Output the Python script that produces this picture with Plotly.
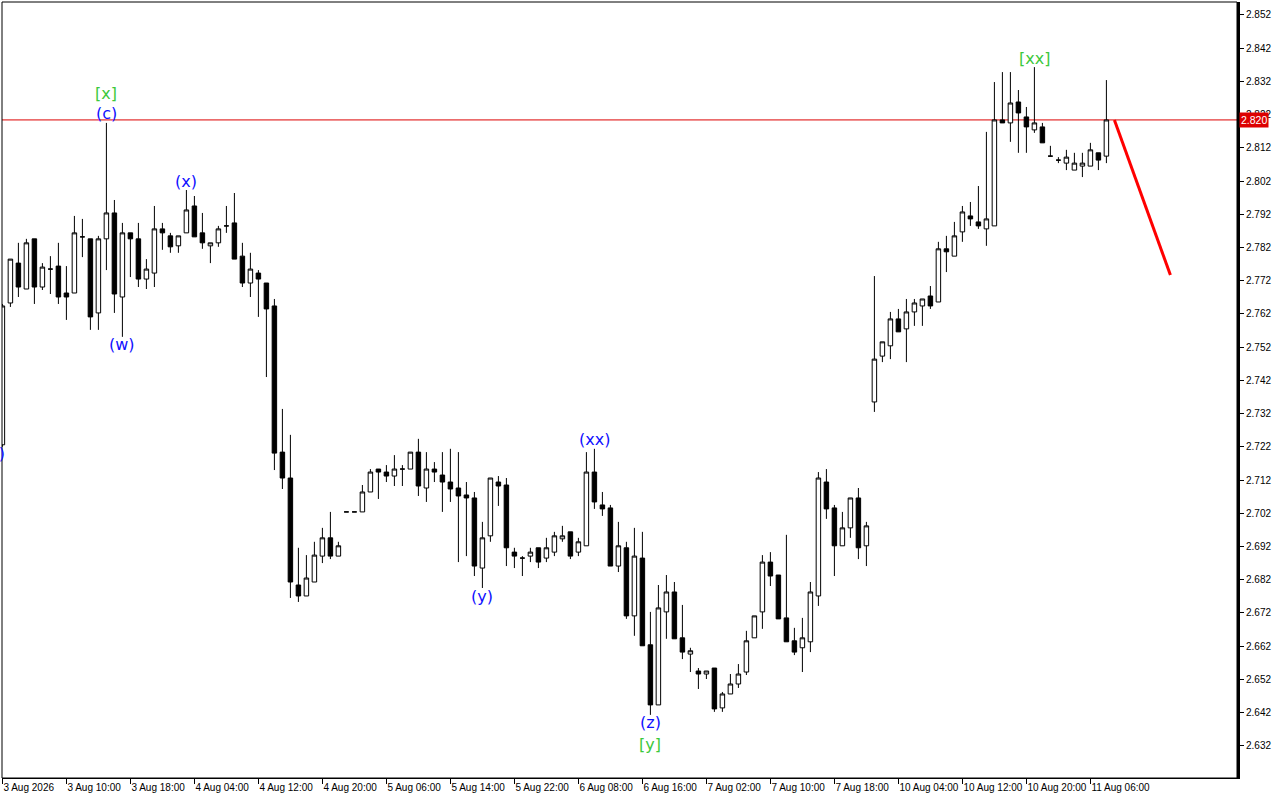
import plotly.graph_objects as go

# ---- data (H1 bars) ----
opens = [2.7226, 2.7653, 2.7773, 2.7695, 2.7846, 2.7701, 2.7755, 2.7764, 2.7683, 2.7683,
         2.7852, 2.7846, 2.7623, 2.7846, 2.7924, 2.7671, 2.7864, 2.7846, 2.7725, 2.7743,
         2.7876, 2.7855, 2.7825, 2.7864, 2.7945, 2.7864, 2.7825, 2.7834, 2.7885, 2.7894,
         2.7794, 2.7713, 2.7743, 2.7713, 2.7644, 2.7204, 2.7126, 2.6804, 2.6771, 2.6813,
         2.6891, 2.6946, 2.6891, 2.7024, 2.7024, 2.7024, 2.7084, 2.7153, 2.7144, 2.7132,
         2.7153, 2.7153, 2.7204, 2.7096, 2.7153, 2.7135, 2.7114, 2.7096, 2.7075, 2.7066,
         2.6855, 2.6952, 2.7114, 2.7105, 2.6903, 2.6885, 2.6891, 2.6916, 2.6885, 2.6903,
         2.6943, 2.6964, 2.6903, 2.6922, 2.7144, 2.7045, 2.7036, 2.6861, 2.6916, 2.6711,
         2.6885, 2.6624, 2.6443, 2.6723, 2.6783, 2.6645, 2.6596, 2.6545, 2.6536, 2.6554,
         2.6434, 2.6476, 2.6506, 2.6542, 2.6645, 2.6723, 2.6873, 2.6834, 2.6705, 2.6636,
         2.6615, 2.6633, 2.6771, 2.7114, 2.7036, 2.6922, 2.6976, 2.7066, 2.6922, 2.7355,
         2.7493, 2.7524, 2.7605, 2.7575, 2.7626, 2.7644, 2.7674, 2.7656, 2.7816, 2.7794,
         2.7867, 2.7915, 2.7897, 2.7876, 2.7885, 2.8204, 2.8195, 2.8258, 2.8213, 2.8174,
         2.8183, 2.8095, 2.8083, 2.8074, 2.8053, 2.8065, 2.8065, 2.8105, 2.8095]
highs = [2.7650, 2.7785, 2.7834, 2.7846, 2.7846, 2.7773, 2.7794, 2.7834, 2.7764, 2.7915,
         2.7906, 2.7846, 2.7855, 2.8195, 2.7963, 2.7894, 2.7864, 2.7894, 2.7785, 2.7945,
         2.7894, 2.7864, 2.7855, 2.7993, 2.7975, 2.7924, 2.7834, 2.7885, 2.7945, 2.7984,
         2.7834, 2.7804, 2.7752, 2.7713, 2.7665, 2.7334, 2.7256, 2.6916, 2.6894, 2.6934,
         2.6976, 2.7024, 2.6934, 2.7024, 2.7024, 2.7105, 2.7153, 2.7153, 2.7165, 2.7195,
         2.7165, 2.7204, 2.7244, 2.7204, 2.7174, 2.7204, 2.7214, 2.7204, 2.7114, 2.7084,
         2.6994, 2.7126, 2.7132, 2.7126, 2.6916, 2.6891, 2.6916, 2.6916, 2.6946, 2.6964,
         2.6982, 2.6964, 2.6946, 2.7204, 2.7214, 2.7084, 2.7045, 2.6994, 2.6934, 2.6976,
         2.6964, 2.6723, 2.6804, 2.6834, 2.6813, 2.6744, 2.6615, 2.6554, 2.6545, 2.6554,
         2.6482, 2.6536, 2.6566, 2.6666, 2.6711, 2.6894, 2.6903, 2.6834, 2.6955, 2.6675,
         2.6705, 2.6813, 2.7144, 2.7153, 2.7045, 2.7024, 2.7066, 2.7096, 2.6994, 2.7734,
         2.7536, 2.7626, 2.7635, 2.7665, 2.7665, 2.7665, 2.7704, 2.7837, 2.7855, 2.7897,
         2.7945, 2.7957, 2.8005, 2.8168, 2.8318, 2.8348, 2.8348, 2.8294, 2.8243, 2.8363,
         2.8195, 2.8126, 2.8092, 2.8114, 2.8105, 2.8105, 2.8135, 2.8105, 2.8324]
lows = [2.7220, 2.7641, 2.7671, 2.7695, 2.7650, 2.7692, 2.7680, 2.7650, 2.7602, 2.7683,
        2.7791, 2.7572, 2.7572, 2.7752, 2.7623, 2.7551, 2.7731, 2.7701, 2.7695, 2.7701,
        2.7813, 2.7804, 2.7804, 2.7864, 2.7852, 2.7816, 2.7773, 2.7822, 2.7864, 2.7785,
        2.7701, 2.7671, 2.7611, 2.7430, 2.7150, 2.7093, 2.6765, 2.6753, 2.6771, 2.6813,
        2.6870, 2.6882, 2.6891, 2.7024, 2.7024, 2.7024, 2.7084, 2.7063, 2.7114, 2.7102,
        2.7102, 2.7153, 2.7072, 2.7054, 2.7114, 2.7024, 2.7054, 2.6873, 2.6891, 2.6831,
        2.6795, 2.6934, 2.7042, 2.6861, 2.6855, 2.6831, 2.6873, 2.6855, 2.6873, 2.6891,
        2.6934, 2.6882, 2.6891, 2.6922, 2.7033, 2.7012, 2.6861, 2.6843, 2.6702, 2.6651,
        2.6621, 2.6413, 2.6443, 2.6642, 2.6642, 2.6581, 2.6542, 2.6491, 2.6521, 2.6422,
        2.6422, 2.6476, 2.6494, 2.6533, 2.6645, 2.6672, 2.6801, 2.6702, 2.6633, 2.6593,
        2.6542, 2.6602, 2.6741, 2.7003, 2.6831, 2.6922, 2.6946, 2.6882, 2.6861, 2.7325,
        2.7475, 2.7484, 2.7566, 2.7475, 2.7584, 2.7584, 2.7635, 2.7656, 2.7746, 2.7794,
        2.7837, 2.7885, 2.7876, 2.7825, 2.7885, 2.8195, 2.8138, 2.8105, 2.8105, 2.8165,
        2.8135, 2.8095, 2.8074, 2.8053, 2.8053, 2.8032, 2.8065, 2.8053, 2.8074]
closes = [2.7644, 2.7785, 2.7701, 2.7834, 2.7701, 2.7761, 2.7755, 2.7671, 2.7671, 2.7864,
          2.7852, 2.7611, 2.7846, 2.7924, 2.7680, 2.7864, 2.7846, 2.7725, 2.7755, 2.7876,
          2.7864, 2.7822, 2.7855, 2.7933, 2.7852, 2.7834, 2.7834, 2.7876, 2.7885, 2.7785,
          2.7713, 2.7755, 2.7725, 2.7635, 2.7201, 2.7126, 2.6813, 2.6771, 2.6825, 2.6894,
          2.6946, 2.6891, 2.6922, 2.7024, 2.7024, 2.7084, 2.7144, 2.7144, 2.7132, 2.7153,
          2.7153, 2.7204, 2.7102, 2.7153, 2.7144, 2.7114, 2.7093, 2.7072, 2.7066, 2.6861,
          2.6946, 2.7126, 2.7102, 2.6916, 2.6891, 2.6885, 2.6903, 2.6873, 2.6916, 2.6952,
          2.6952, 2.6891, 2.6934, 2.7144, 2.7054, 2.7033, 2.6861, 2.6922, 2.6711, 2.6891,
          2.6621, 2.6443, 2.6735, 2.6783, 2.6642, 2.6602, 2.6606, 2.6536, 2.6545, 2.6431,
          2.6476, 2.6506, 2.6536, 2.6636, 2.6711, 2.6873, 2.6831, 2.6702, 2.6633, 2.6602,
          2.6645, 2.6783, 2.7126, 2.7033, 2.6922, 2.6976, 2.7066, 2.6916, 2.6982, 2.7484,
          2.7536, 2.7605, 2.7566, 2.7626, 2.7653, 2.7665, 2.7644, 2.7816, 2.7807, 2.7855,
          2.7927, 2.7906, 2.7885, 2.7906, 2.8204, 2.8195, 2.8255, 2.8225, 2.8183, 2.8195,
          2.8135, 2.8095, 2.8083, 2.8092, 2.8074, 2.8074, 2.8114, 2.8083, 2.8204]

xtick_pos = [0, 8, 16, 24, 32, 40, 48, 56, 64, 72, 80, 88, 96, 104, 112, 120, 128, 136]
xtick_text = ["3 Aug 2026", "3 Aug 10:00", "3 Aug 18:00", "4 Aug 04:00", "4 Aug 12:00",
              "4 Aug 20:00", "5 Aug 06:00", "5 Aug 14:00", "5 Aug 22:00", "6 Aug 08:00",
              "6 Aug 16:00", "7 Aug 02:00", "7 Aug 10:00", "7 Aug 18:00", "10 Aug 04:00",
              "10 Aug 12:00", "10 Aug 20:00", "11 Aug 06:00"]
ytick_vals = [2.632, 2.642, 2.652, 2.662, 2.672, 2.682, 2.692, 2.702, 2.712, 2.722, 2.732,
              2.742, 2.752, 2.762, 2.772, 2.782, 2.792, 2.802, 2.812, 2.822, 2.832, 2.842, 2.852]

current_price = 2.8204
current_price_text = "2.820"
forecast_bars = [139, 146]
forecast_prices = [2.8204, 2.7737]

wave_labels = ["[x]", "(c)", "(w)", "(x)", "(y)", "(xx)", "(z)", "[y]", "[xx]"]
wave_bars = [13, 13, 15, 23, 60, 74, 81, 81, 129]
wave_prices = [2.8285, 2.8222, 2.7527, 2.8020, 2.6768, 2.7241, 2.6389, 2.6323, 2.8390]
wave_degree = ["major", "minor", "minor", "minor", "minor", "minor", "minor", "major", "major"]

BLUE = "#1010ff"
GREEN = "#3cc83c"

bars = list(range(len(opens)))

fig = go.Figure()
fig.add_trace(go.Candlestick(
    x=bars, open=opens, high=highs, low=lows, close=closes,
    increasing=dict(line=dict(color="black", width=1), fillcolor="white"),
    decreasing=dict(line=dict(color="black", width=1), fillcolor="black"),
    whiskerwidth=0, hoverinfo="skip", showlegend=False,
))
fig.add_trace(go.Scatter(
    x=forecast_bars, y=forecast_prices, mode="lines",
    line=dict(color="#ff0000", width=3), hoverinfo="skip", showlegend=False,
))

annotations = []
for t, b, p, d in zip(wave_labels, wave_bars, wave_prices, wave_degree):
    annotations.append(dict(
        x=b, y=p, xref="x", yref="y", text=t, showarrow=False,
        xanchor="center", yanchor="middle",
        font=dict(family="DejaVu Sans", size=16, color=GREEN if d == "major" else BLUE),
    ))
# partially hidden label at the left edge
annotations.append(dict(
    x=-0.0065, y=2.7201, xref="paper", yref="y", text="(x)", showarrow=False,
    xanchor="center", yanchor="middle",
    font=dict(family="DejaVu Sans", size=16, color=BLUE),
))
# current price tag
annotations.append(dict(
    x=1, y=current_price, xref="paper", yref="y", text=current_price_text, showarrow=False,
    xanchor="left", yanchor="middle", xshift=2,
    bgcolor="#dd0000", borderpad=1,
    font=dict(family="Liberation Sans", size=10.5, color="white"),
))

fig.update_layout(
    width=1280, height=800,
    margin=dict(l=2, r=43, t=2, b=22, autoexpand=False),
    paper_bgcolor="white", plot_bgcolor="white",
    showlegend=False, hovermode=False,
    boxgap=0.44, boxgroupgap=0,
    xaxis=dict(
        range=[-0.05, 154.325], rangeslider=dict(visible=False),
        tickmode="array", tickvals=xtick_pos, ticktext=xtick_text,
        ticks="outside", ticklen=5, tickcolor="black", tickwidth=1,
        ticklabelposition="outside right", tickangle=0, automargin=False,
        showgrid=False, zeroline=False, showline=True, linecolor="black", linewidth=1,
        tickfont=dict(family="Liberation Sans", size=10, color="black"),
    ),
    yaxis=dict(
        side="right", range=[2.6223, 2.8559], automargin=False,
        tickmode="array", tickvals=ytick_vals, tickformat=".3f",
        ticks="outside", ticklen=4, tickcolor="black", tickwidth=1,
        showgrid=False, zeroline=False, showline=True, linecolor="black", linewidth=3,
        tickfont=dict(family="Liberation Sans", size=10, color="black"),
    ),
    shapes=[
        dict(type="rect", xref="paper", yref="paper", x0=0, x1=1, y0=0, y1=1,
             line=dict(color="black", width=1), layer="above"),
        dict(type="line", xref="paper", yref="y", x0=0, x1=1, y0=current_price, y1=current_price,
             line=dict(color="#dd0000", width=1), layer="below"),
    ],
    annotations=annotations,
)

fig.write_html("out.html", config={"displayModeBar": False},
               post_script="document.body.style.margin='0px';")
